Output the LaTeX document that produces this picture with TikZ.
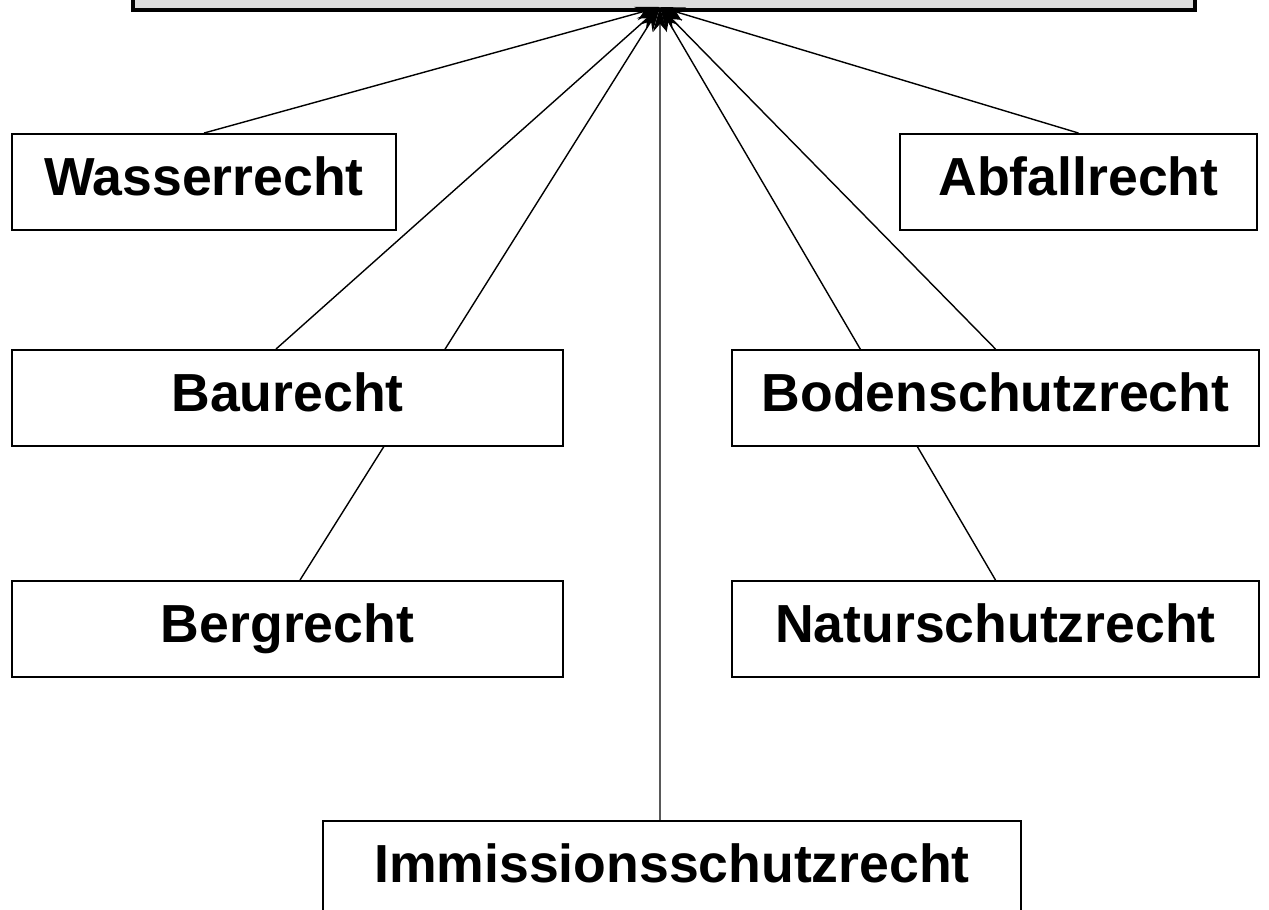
\documentclass[tikz,border=0pt]{standalone}
\usepackage{fontspec}
\setmainfont{Liberation Sans}
\usetikzlibrary{arrows.meta,positioning,backgrounds}

\begin{document}
\begin{tikzpicture}[x=0.02cm,y=-0.02cm,
  rechtbox/.style={draw, fill=white, line width=1.1pt, minimum height=1.92cm,
    inner sep=0pt, text height=0.8cm, text depth=0.28cm,
    font=\fontsize{30.5}{36}\selectfont\bfseries},
  pfeil/.style={line width=0.8pt, -{Stealth[length=0.5cm,width=0.28cm]}}]

% Page frame
\useasboundingbox (0,0) rectangle (1269,910);
\clip (0,0) rectangle (1269,910);

% Top box (cut off by the page)
\node[draw, fill=black!14, line width=2pt, minimum width=21.24cm,
  minimum height=1.4cm] (umwelt) at (664,-25) {};
\coordinate (apex) at (660,7);

% Fields of law
\node[rechtbox, minimum width=7.68cm] (wasser) at (204,182) {Wasserrecht};
\node[rechtbox, minimum width=7.14cm] (abfall) at (1078.5,182) {Abfallrecht};
\node[rechtbox, minimum width=11.02cm] (bau) at (287.5,398) {Baurecht};
\node[rechtbox, minimum width=10.54cm] (boden) at (995.5,398) {Bodenschutzrecht};
\node[rechtbox, minimum width=11.02cm] (berg) at (287.5,629) {Bergrecht};
\node[rechtbox, minimum width=10.54cm] (natur) at (995.5,629) {Naturschutzrecht};
\node[rechtbox, minimum width=13.96cm] (immission) at (672,869) {Immissionsschutzrecht};

% Arrows to the top box
\draw[pfeil] (wasser.north) -- (apex);
\draw[pfeil] (abfall.north) -- (apex);
\draw[pfeil] ([xshift=-0.23cm]bau.north) -- (apex);
\draw[pfeil] (boden.north) -- (apex);
\draw[pfeil] ([xshift=-0.24cm]immission.north) -- (apex);

% These two run behind the boxes above them
\begin{scope}[on background layer]
\draw[pfeil] ([xshift=0.25cm]berg.north) -- (apex);
\draw[pfeil] (natur.north) -- (apex);
\end{scope}

\end{tikzpicture}
\end{document}
